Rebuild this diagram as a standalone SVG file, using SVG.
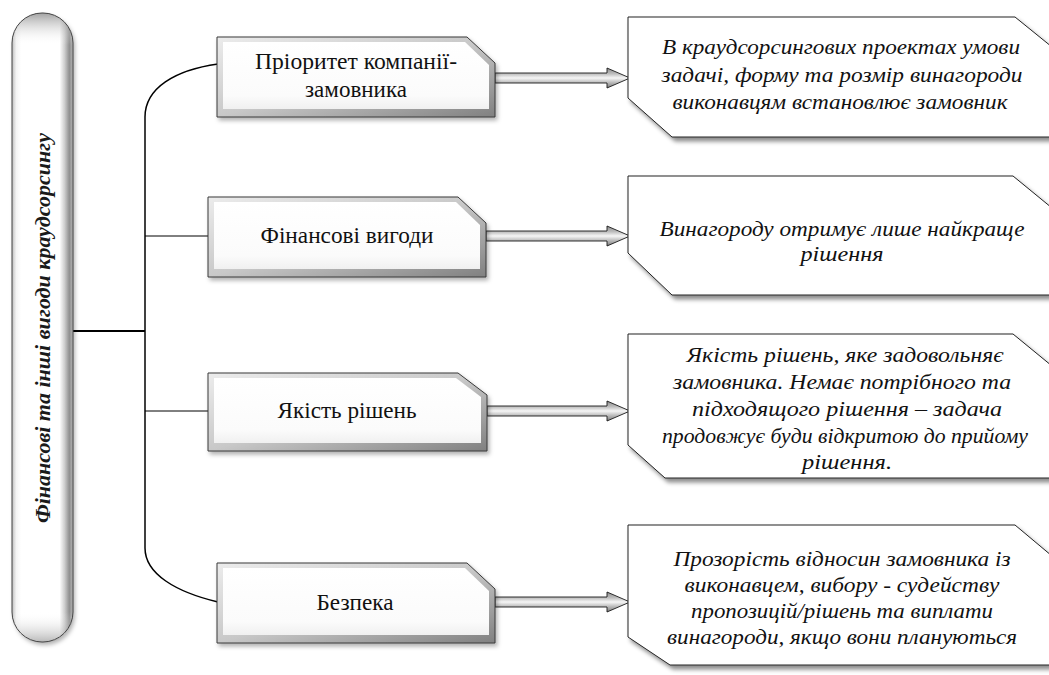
<svg xmlns="http://www.w3.org/2000/svg" width="1049" height="675" viewBox="0 0 1049 675">
<style>
.lt{font-family:'Liberation Serif',serif;font-size:23px;fill:#111;text-anchor:middle}
.rt{font-family:'Liberation Serif',serif;font-size:21px;font-style:italic;fill:#111;text-anchor:middle}
.pt{font-family:'Liberation Serif',serif;font-size:20px;font-style:italic;font-weight:bold;fill:#1a1a1a;text-anchor:middle}
.bev{fill:url(#bevel);stroke:#3a3a3a;stroke-width:1;filter:url(#sh2)}
.face{fill:url(#face)}
.tgt{fill:#fff;stroke:#222;stroke-width:1;filter:url(#sh)}
.arr{fill:url(#arrg);stroke:#1a1a1a;stroke-width:0.9}
.con{fill:none;stroke:#000}
</style>
<defs>
<linearGradient id="bevel" x1="0" y1="0" x2="1" y2="1">
<stop offset="0" stop-color="#ececec"/>
<stop offset="0.5" stop-color="#c8c8c8"/>
<stop offset="1" stop-color="#808080"/>
</linearGradient>
<linearGradient id="face" x1="0" y1="0" x2="0" y2="1">
<stop offset="0" stop-color="#ffffff"/>
<stop offset="0.8" stop-color="#fbfbfb"/>
<stop offset="1" stop-color="#f0f0f0"/>
</linearGradient>
<linearGradient id="arrg" x1="0" y1="0" x2="0" y2="1">
<stop offset="0" stop-color="#8a8a8a"/>
<stop offset="0.28" stop-color="#bcbcbc"/>
<stop offset="0.5" stop-color="#f6f6f6"/>
<stop offset="0.72" stop-color="#bdbdbd"/>
<stop offset="1" stop-color="#7a7a7a"/>
</linearGradient>
<linearGradient id="pillg" x1="0" y1="0" x2="1" y2="0">
<stop offset="0" stop-color="#bdbdbd"/>
<stop offset="0.07" stop-color="#f4f4f4"/>
<stop offset="0.15" stop-color="#ffffff"/>
<stop offset="0.78" stop-color="#ffffff"/>
<stop offset="0.86" stop-color="#cfcfcf"/>
<stop offset="0.94" stop-color="#8f8f8f"/>
<stop offset="1" stop-color="#b5b5b5"/>
</linearGradient>
<linearGradient id="domeT" x1="0" y1="0" x2="0" y2="1">
<stop offset="0" stop-color="#7a7a7a" stop-opacity="0.7"/>
<stop offset="1" stop-color="#ffffff" stop-opacity="0"/>
</linearGradient>
<linearGradient id="domeB" x1="0" y1="1" x2="0" y2="0">
<stop offset="0" stop-color="#8a8a8a" stop-opacity="0.6"/>
<stop offset="1" stop-color="#ffffff" stop-opacity="0"/>
</linearGradient>
<clipPath id="pillclip"><rect x="12" y="13" width="61" height="629" rx="30" ry="30"/></clipPath>
<filter id="sh" x="-5%" y="-10%" width="115%" height="130%">
<feDropShadow dx="3" dy="4" stdDeviation="2" flood-color="#000" flood-opacity="0.45"/>
</filter>
<filter id="sh2" x="-10%" y="-5%" width="130%" height="115%">
<feDropShadow dx="2" dy="3" stdDeviation="2" flood-color="#000" flood-opacity="0.3"/>
</filter>
</defs>
<rect width="1049" height="675" fill="#fff"/>

<g id="connectors">
<line class="con" x1="73" y1="331" x2="145" y2="331" stroke-width="2"/>
<line class="con" x1="145" y1="117" x2="145" y2="548" stroke-width="1.5"/>
<path class="con" d="M145,117 C145,88 175,70 218,64" stroke-width="1.5"/>
<path class="con" d="M145,548 C145,574 176,592 218,602" stroke-width="1.5"/>
<line class="con" x1="145" y1="236" x2="208" y2="236" stroke-width="1"/>
<line class="con" x1="145" y1="411" x2="208" y2="411" stroke-width="1"/>
<path class="arr" d="M495,73 H607 V68 L630,78 L607,88 V83 H495 Z"/>
<path class="arr" d="M486,231 H607 V226 L630,236 L607,246 V241 H486 Z"/>
<path class="arr" d="M487,406 H607 V401 L630,411 L607,421 V416 H487 Z"/>
<path class="arr" d="M495,597 H607 V592 L630,602 L607,612 V607 H495 Z"/>
</g>

<g id="pill">
<rect x="12" y="13" width="61" height="629" rx="30" ry="30" fill="url(#pillg)" filter="url(#sh2)"/>
<g clip-path="url(#pillclip)">
<rect x="12" y="13" width="61" height="32" fill="url(#domeT)"/>
<rect x="12" y="612" width="61" height="30" fill="url(#domeB)"/>
</g>
<rect x="12" y="13" width="61" height="629" rx="30" ry="30" fill="none" stroke="#444" stroke-width="1"/>
<text class="pt" transform="translate(50,328) rotate(-90)" textLength="390" lengthAdjust="spacingAndGlyphs">Фінансові та інші вигоди краудсорсингу</text>
</g>

<g id="b1">
<polygon class="bev" points="217,37 467,37 495,63 495,117 217,117"/>
<polygon class="face" points="223,42 465,42 489,65 489,109 223,109"/>
<text class="lt" x="356" y="69" textLength="202" lengthAdjust="spacingAndGlyphs">Пріоритет компанії-</text>
<text class="lt" x="356" y="97" textLength="102" lengthAdjust="spacingAndGlyphs">замовника</text>
</g>
<g id="b2">
<polygon class="bev" points="208,197 458,197 486,223 486,277 208,277"/>
<polygon class="face" points="214,202 456,202 480,225 480,269 214,269"/>
<text class="lt" x="347" y="243" textLength="173" lengthAdjust="spacingAndGlyphs">Фінансові вигоди</text>
</g>
<g id="b3">
<polygon class="bev" points="208,373 458,373 487,395 487,451 208,451"/>
<polygon class="face" points="214,378 456,378 481,397 481,443 214,443"/>
<text class="lt" x="347" y="418" textLength="139" lengthAdjust="spacingAndGlyphs">Якість рішень</text>
</g>
<g id="b4">
<polygon class="bev" points="217,563 467,563 495,589 495,643 217,643"/>
<polygon class="face" points="223,568 465,568 489,591 489,635 223,635"/>
<text class="lt" x="355" y="610" textLength="77" lengthAdjust="spacingAndGlyphs">Безпека</text>
</g>

<g id="t1">
<polygon class="tgt" points="628,17 1015,17 1052,47 1052,137 672,137 628,98"/>
<text class="rt" x="841" y="54" textLength="358" lengthAdjust="spacingAndGlyphs">В краудсорсингових проектах умови</text>
<text class="rt" x="842" y="82" textLength="361" lengthAdjust="spacingAndGlyphs">задачі, форму та розмір винагороди</text>
<text class="rt" x="840" y="109" textLength="335" lengthAdjust="spacingAndGlyphs">виконавцям встановлює замовник</text>
</g>
<g id="t2">
<polygon class="tgt" points="628,176 1013,176 1052,208 1052,295 672,295 628,253"/>
<text class="rt" x="842" y="236" textLength="365" lengthAdjust="spacingAndGlyphs">Винагороду отримує лише найкраще</text>
<text class="rt" x="842" y="261" textLength="83" lengthAdjust="spacingAndGlyphs">рішення</text>
</g>
<g id="t3">
<polygon class="tgt" points="628,334 1013,334 1052,366 1052,478 665,478 628,445"/>
<text class="rt" x="845" y="362" textLength="317" lengthAdjust="spacingAndGlyphs">Якість рішень, яке задовольняє</text>
<text class="rt" x="842" y="389" textLength="338" lengthAdjust="spacingAndGlyphs">замовника. Немає потрібного та</text>
<text class="rt" x="847" y="416" textLength="310" lengthAdjust="spacingAndGlyphs">підходящого рішення – задача</text>
<text class="rt" x="845" y="443" textLength="366" lengthAdjust="spacingAndGlyphs">продовжує буди відкритою до прийому</text>
<text class="rt" x="847" y="469" textLength="90" lengthAdjust="spacingAndGlyphs">рішення.</text>
</g>
<g id="t4">
<polygon class="tgt" points="628,525 1015,525 1052,556 1052,665 670,665 628,637"/>
<text class="rt" x="842" y="566" textLength="337" lengthAdjust="spacingAndGlyphs">Прозорість відносин замовника із</text>
<text class="rt" x="842" y="592" textLength="315" lengthAdjust="spacingAndGlyphs">виконавцем, вибору - судейству</text>
<text class="rt" x="842" y="618" textLength="302" lengthAdjust="spacingAndGlyphs">пропозицій/рішень та виплати</text>
<text class="rt" x="842" y="644" textLength="350" lengthAdjust="spacingAndGlyphs">винагороди, якщо вони плануються</text>
</g>
</svg>
